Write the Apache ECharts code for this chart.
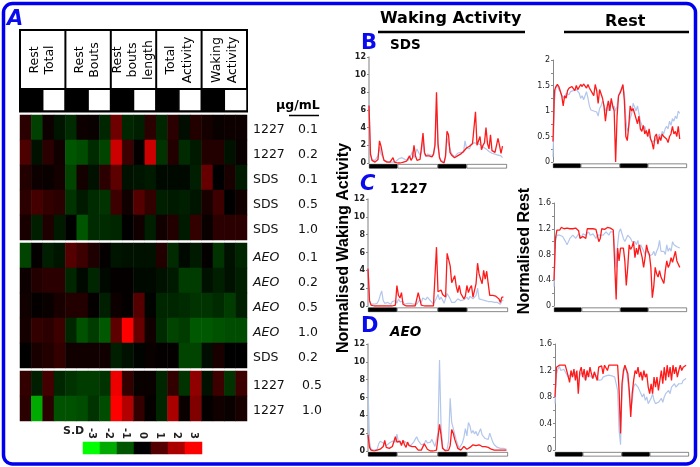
<!DOCTYPE html>
<html>
<head>
<meta charset="utf-8">
<style>html,body{margin:0;padding:0;background:#fff}#c{width:700px;height:467px}</style>
<script src="https://cdn.jsdelivr.net/npm/echarts@6/dist/echarts.min.js"></script>
</head>
<body>
<div id="c"></div>
<script>
const FONT = '"DejaVu Sans"';
const columns = Array.from({length:20},(_, i)=>String(i+1));
const block1Labels = [['1227','0.1'],['1227','0.2'],['SDS','0.1'],['SDS','0.5'],['SDS','1.0']];
const block2Labels = [['AEO','0.1'],['AEO','0.2'],['AEO','0.5'],['AEO','1.0'],['SDS','0.2']];
const block3Labels = [['1227','0.5'],['1227','1.0']];
const block1 = [
[0.5,-0.75,0.15,-0.25,-0.5,0.15,0.1,-0.45,1.3,-0.45,-0.35,0.5,-0.45,0.5,-0.15,0.4,0.25,0.1,0.15,0.15],
[0.9,-0.2,0.5,0.2,-1.0,-0.9,-0.5,-0.8,2.4,0.7,0.05,2.4,-0.6,0.4,-0.5,-0.3,0.4,0.4,-0.2,0.1],
[0.4,0.15,0.1,0.25,-0.8,0.25,-0.2,0.5,1.1,-0.2,-0.25,-0.3,-0.1,-0.1,-0.1,-0.35,1.2,0,0.3,-0.3],
[0.5,0.8,0.6,0.5,-0.6,-0.3,-0.5,-0.6,0.7,0.2,1.0,0.6,-0.35,-0.3,-0.35,-0.25,0.3,0.7,0,0.2],
[0.3,-0.35,0.35,-0.3,0,-1.0,-0.5,-0.5,-0.45,0,0.2,-0.35,0.2,0.4,-0.3,0.6,0.1,0.5,0.5,0.5]];
const block2 = [
[-0.8,0.05,-0.35,-0.25,1.0,0.7,0.35,0.05,-0.25,-0.2,-0.2,-0.2,0.4,-0.5,-0.1,-0.3,0.05,-0.6,-0.2,-0.45],
[0.15,0.4,0.5,0.5,-0.45,-0.1,-0.45,-0.1,0.05,0.05,-0.1,-0.1,-0.2,-0.3,-0.7,-0.7,-0.2,-0.35,-0.2,-0.35],
[0.2,0.05,0.1,0.3,0.4,0.4,0.05,-0.35,0.15,0.05,1.0,-0.05,-0.45,-0.45,-0.5,-0.6,-0.6,-0.5,-0.7,-0.35],
[0.25,0.6,0.5,0.7,-0.45,-0.95,-0.7,-1.05,1.1,3,1.2,0.2,-0.5,-0.8,-0.7,-1.05,-1.05,-0.95,-0.9,-0.9],
[0,0.3,0.4,0.6,0.2,0.2,0.2,0.2,-0.35,-0.2,-0.05,0.1,0.05,0.05,-0.8,-0.8,-0.15,0.3,0,0]];
const block3 = [
[0.6,-0.35,0.8,-0.45,-0.6,-0.7,-0.7,-0.6,2.8,0.6,0.1,0.1,-0.45,0.6,-0.6,1.7,-0.2,0.7,-0.6,0.7],
[0.5,-2.0,0.5,-0.95,-0.95,-0.9,-0.6,-0.9,3,2.1,0.6,0.05,-0.45,2.0,0.1,1.5,0.05,0.2,0.1,0.3]];
const sdLevels = ['-3','-2','-1','0','1','2','3'];
const headerGroups = [['Rest','Total'],['Rest','Bouts'],['Rest','bouts','length'],['Total','Activity'],['Waking','Activity']];
const lightPhases = [19,27,19,27];

const sdsWakeRed = [6.5,1.0,0.3,0.1,0.1,0.2,0.4,2.5,1.9,1.0,0.3,0.1,0.1,0.1,0.1,0.2,0.6,0.1,0,0,
0,0,0.1,0.1,0.1,0.2,0.5,0.8,0.3,0.6,2.0,0.8,0.3,0.3,0.4,1.8,3.4,1.2,0.8,0.7,
0.8,0.6,0.7,1.0,2.0,8.0,2.2,0.6,0.2,0.1,0,0.8,3.6,3.2,1.2,0.9,0.8,0.6,0.7,0.8,
0.7,1.0,0.9,1.3,1.1,1.7,1.5,1.9,1.8,2.2,2.4,5.8,2.0,2.2,3.0,1.5,2.0,2.3,4.0,2.2,1.6,3.2,1.4,1.6,1.2,1.3,2.8,2.0,1.1,1.9];
const sdsWakeBlue = [6.8,1.0,0.4,0.3,0.3,0.4,0.8,1.8,1.0,0.7,0.3,0.2,0.2,0.1,0.1,0.1,0.1,0.1,0.2,0.4,
0.5,0.4,0.6,0.5,0.4,0.2,0.3,0.5,0.9,1.3,0.6,1.1,1.6,1.2,0.9,1.2,2.8,1.0,0.7,1.0,
1.1,0.9,0.7,0.9,2.4,6.0,1.8,0.7,0.3,0.2,0.1,0.6,2.8,3.0,1.6,1.1,0.9,0.7,0.9,1.1,
0.9,1.2,1.4,1.2,2.5,1.7,1.8,1.6,2.0,2.2,2.3,2.5,2.2,2.3,2.1,2.0,1.8,1.9,1.6,1.5,1.3,1.5,1.1,1.2,1.0,0.9,0.9,0.8,0.8,0.6];
const t1227WakeRed = [4.2,0.6,0.1,0,0,0,0,0,0,0,0,0,0,0,0,0,0,0,0.1,2.3,
1.2,0.9,1.5,0.2,0,0,0,0,0,0,0,0,0.1,1.5,0.8,0.1,0,0,0,0,
0,0,0,0,0.1,6.6,1.6,1.6,1.8,1.3,1.1,1.0,5.9,5.2,4.5,2.6,2.4,3.4,2.2,1.5,
2.3,1.4,1.2,0.8,1.1,2.3,1.5,2.0,2.3,1.0,0.9,2.5,4.8,3.6,3.0,2.5,4.0,3.0,3.9,2.5,
1.2,1.2,1.2,1.1,1.1,1.0,0.8,0.4,1.0,1.0];
const t1227WakeBlue = [4.4,0.6,0.2,0.1,0.2,0.2,0.3,0.6,1.2,1.7,0.6,0.3,0.3,0.4,0.3,0.2,0.5,0.7,0.6,0.3,
0.8,0.5,0.7,0.5,0.2,0.3,0.3,0.5,0.3,0.4,0.2,0.4,0.2,0.3,0.7,0.4,0.9,1.0,0.7,1.0,
1.0,0.6,0.4,0.2,0.1,0.9,1.3,0.7,1.0,0.8,0.3,0.5,1.4,1.6,0.8,0.4,0.2,0.4,0.5,0.8,
1.0,0.6,0.5,0.7,0.8,1.0,0.7,1.1,1.2,0.8,1.0,1.2,2.0,0.8,0.9,0.7,0.8,0.6,0.7,0.5,
0.6,0.5,0.5,0.4,0.5,0.4,0.4,0.2,0.6,0.7];
const aeoWakeRed = [1.8,0.4,0.1,0.1,0,0,0.1,0.1,0.2,0.3,0.5,1.2,0.4,0.3,0.3,0.4,0.5,0.7,1.6,1.0,
0.9,1.1,0.6,1.2,0.7,0.4,1.0,0.6,0.5,0.5,0.3,0.5,0.5,0.1,0,0.1,0.3,0.8,0.5,0.2,
0.1,0,0,0,0,0.1,0.3,3.0,1.8,0.3,0.1,0,0,0.1,0.6,2.4,2.0,1.3,0.8,0.3,
0.2,0.1,0.3,0.5,0.3,0.2,0.3,0.4,0.5,0.7,0.8,0.6,0.5,0.7,0.6,0.5,0.6,0.5,0.3,0.4,
0.3,0.2,0.3,0.1,0.2,0.1,0.2,0.1,0,0.1,0.1,0.1];
const aeoWakeBlue = [7.2,1.0,0.2,0.1,0.1,0.1,0.2,0.8,1.1,1.0,0.9,1.1,0.6,0.8,0.9,0.8,1.1,1.3,1.0,1.9,
1.0,1.1,0.8,0.7,1.1,1.0,0.8,0.9,0.6,0.7,1.0,1.3,1.6,1.2,1.3,0.7,0.9,0.8,1.2,0.9,
0.7,1.0,1.3,0.9,0.5,0.3,2.0,10.2,2.8,0.5,0.1,0,0.2,1.2,5.9,3.2,3.3,1.9,1.2,0.7,
0.3,0.4,0.9,1.5,2.5,1.7,3.2,2.8,2.0,2.3,1.9,2.2,1.7,1.9,2.5,1.8,2.0,1.4,1.6,1.3,
2.0,1.5,1.0,0.7,0.6,0.4,0.5,0.3,0.5,0.3,0.5,0.2];
const sdsRestRed = [0.4,1.4,1.48,1.52,1.48,1.45,1.3,1.1,1.3,1.25,1.4,1.45,1.42,1.48,1.45,1.4,1.5,1.42,1.45,1.52,
1.48,1.53,1.5,1.45,1.52,1.45,1.48,1.35,1.3,1.52,1.4,1.15,1.42,1.4,1.25,1.1,0.8,1.05,1.2,1.0,
1.25,1.1,1.0,0,0.9,1.3,1.35,1.42,1.52,1.2,0.5,0.42,0.7,1.1,1.0,1.05,0.95,0.85,0.75,0.9,
0.65,0.6,0.72,0.55,0.62,0.5,0.65,0.45,0.38,0.25,0.5,0.55,0.35,0.5,0.42,0.55,0.5,0.52,0.45,0.38,
0.5,0.55,0.7,0.55,0.6,0.5,0.7,0.45];
const sdsRestBlue = [0.1,1.2,1.45,1.5,1.42,1.38,1.3,1.28,1.25,1.35,1.38,1.32,1.38,1.35,1.4,1.38,1.42,1.4,1.35,1.25,
1.3,1.22,1.3,1.38,1.25,1.1,1.02,1.05,1.0,1.03,0.98,0.9,1.05,1.1,1.2,1.1,1.0,1.08,1.0,1.15,
1.2,1.05,1.1,1.0,1.1,1.3,1.38,1.45,1.5,1.35,0.85,0.6,0.7,0.85,0.95,1.15,1.08,1.0,1.1,0.95,
0.8,0.72,0.65,0.7,0.6,0.55,0.5,0.45,0.4,0.38,0.42,0.4,0.5,0.55,0.48,0.6,0.55,0.65,0.7,0.65,
0.8,0.72,0.85,0.8,0.9,0.85,1.0,0.95];
const t1227RestRed = [0.4,1.05,1.18,1.2,1.18,1.22,1.19,1.2,1.18,1.21,1.19,1.2,1.22,1.2,1.19,1.21,1.2,1.17,1.05,1.05,
1.08,1.07,1.05,1.2,1.21,1.2,1.19,1.2,1.21,1.19,1.2,1.0,1.05,1.2,1.21,1.19,1.2,1.22,1.2,1.21,
1.19,1.18,1.15,0.1,0.9,0.7,0.9,0.91,0.9,0.7,0.32,0.6,0.95,0.88,0.92,1.0,0.75,0.9,0.8,0.95,
0.85,0.75,0.6,0.75,0.95,0.85,0.8,0.6,0.13,0.3,0.6,0.5,0.45,0.55,0.45,0.42,0.35,0.55,0.7,0.6,
0.65,0.75,0.68,0.7,0.85,0.7,0.65,0.6];
const t1227RestBlue = [0.3,1.0,1.1,1.12,1.1,1.13,1.08,1.1,1.0,0.95,1.0,1.05,1.08,1.1,1.12,1.05,1.08,1.12,1.1,1.07,
1.12,1.13,1.1,1.12,1.15,1.1,1.08,1.12,1.1,1.05,1.1,1.13,1.1,1.08,1.1,1.12,1.15,1.13,1.1,1.15,
1.18,1.15,1.12,0.6,0.95,1.15,1.2,1.18,1.05,1.0,1.05,1.1,1.12,1.05,1.0,0.98,1.0,0.95,1.02,0.9,
0.95,0.9,0.85,0.8,0.88,0.82,0.78,0.75,0.8,0.85,0.78,0.85,0.9,1.02,0.85,0.82,0.85,0.8,0.95,0.85,
0.9,0.85,1.0,0.95,0.98,0.92,0.92,0.9];
const aeoRestRed = [0.8,1.25,1.27,1.28,1.26,1.28,1.27,1.28,1.25,1.12,1.02,1.2,1.1,1.22,1.05,1.2,0.85,1.18,1.25,1.1,
1.22,1.05,1.2,1.1,1.25,1.15,1.08,1.18,1.15,1.05,1.25,1.28,1.27,1.15,1.28,1.27,1.2,1.28,1.26,1.28,
1.27,1.28,1.26,1.28,0.9,0.25,1.0,1.2,1.28,1.27,1.15,0.9,0.5,0.85,1.05,1.2,1.15,1.25,1.1,1.18,
1.05,1.2,1.1,1.15,0.95,0.85,1.0,0.85,1.1,0.95,1.1,0.9,1.05,1.2,1.0,1.25,1.05,1.28,1.1,1.25,
1.05,1.28,1.15,1.25,1.1,1.2,1.28,1.2,1.25,1.22,1.28];
const aeoRestBlue = [0.7,1.15,1.22,1.26,1.2,1.18,1.22,1.18,1.15,1.1,1.12,1.15,1.1,1.12,1.18,1.1,1.02,1.12,1.18,1.12,
1.1,1.05,1.12,1.15,1.12,1.1,1.08,1.12,1.1,1.12,1.05,1.08,1.06,1.1,1.08,1.12,1.15,1.13,1.15,1.12,
1.12,1.1,1.08,0.9,0.3,0.08,0.9,1.15,1.25,1.2,1.05,0.8,0.6,0.75,0.95,1.0,1.02,0.95,0.9,0.85,
0.8,0.85,0.75,0.8,0.7,0.72,0.78,0.85,0.75,0.7,0.68,0.72,0.7,0.78,0.72,0.8,0.85,0.82,0.9,0.85,
0.95,0.92,1.0,0.95,0.98,1.0,1.02,1.0,1.05,1.06,1.08];

const grids=[], xAxes=[], yAxes=[], series=[];
function addGrid(g,x,y){grids.push(g);xAxes.push(Object.assign({gridIndex:grids.length-1},x));yAxes.push(Object.assign({gridIndex:grids.length-1},y));return grids.length-1;}
const hidden={show:false};
function heat(values,labels,top,aw){
  const h=values.length*25;
  const i=addGrid({left:20,top,width:227,height:h},
    {type:'category',data:columns,show:false},
    {type:'category',inverse:true,position:'right',data:labels.map(l=>l.join('|')),
     axisLine:hidden,axisTick:hidden,
     axisLabel:{margin:6,interval:0,align:'left',formatter:v=>{const [a,b]=v.split('|');return `{${a==='AEO'?'i':'a'}|${a}}{b|${b}}`;},
       rich:{a:{width:aw,fontFamily:FONT,fontSize:12.5,color:'#111',padding:[4,0,0,0]},
             i:{width:aw,fontFamily:FONT,fontSize:12.5,color:'#111',fontStyle:'italic',padding:[4,0,0,0]},
             b:{fontFamily:FONT,fontSize:12.5,color:'#111',padding:[4,0,0,0]}}}});
  const data=[];
  values.forEach((r,y)=>r.forEach((v,x)=>data.push([x,y,v])));
  series.push({type:'heatmap',xAxisIndex:i,yAxisIndex:i,data,silent:true,progressive:0,emphasis:{disabled:true}});
}
heat(block1,block1Labels,115,45);
heat(block2,block2Labels,243,45);
heat(block3,block3Labels,371,49);
const bar=addGrid({left:83,top:442,width:119,height:12},
  {type:'category',position:'top',data:sdLevels,axisLine:hidden,axisTick:hidden,
   axisLabel:{interval:0,rotate:90,margin:3,fontFamily:FONT,fontSize:10,fontWeight:'bold',color:'#222'}},
  {type:'category',data:['SD'],show:false});
series.push({type:'heatmap',xAxisIndex:bar,yAxisIndex:bar,data:sdLevels.map((v,i)=>[i,0,+v]),silent:true,emphasis:{disabled:true}});

function panel(x,top,w,h,maxV,step,red,blue,wake,stripTop){
  const i=addGrid({left:x,top,width:w,height:h},
    {type:'value',min:0,max:92,show:false},
    {type:'value',min:0,max:maxV,interval:step,splitLine:hidden,
     axisLine:{show:true,lineStyle:{color:wake?'#aaa':'#888',width:wake?1.5:1}},
     axisTick:{show:true,length:2,lineStyle:{color:'#888'}},
     minorTick:{show:!wake,splitNumber:2,length:2,lineStyle:{color:'#888'}},
     axisLabel:{margin:3,fontFamily:FONT,fontSize:8,fontWeight:wake?'bold':'normal',color:'#222',showMaxLabel:true,showMinLabel:true}});
  const ln=(arr,c)=>({type:'line',xAxisIndex:i,yAxisIndex:i,data:arr.map((v,k)=>[k,v]),showSymbol:false,symbol:'none',silent:true,
    lineStyle:{color:c,width:c==='#ff1a1a'?1.3:1.2},emphasis:{disabled:true},z:c==='#ff1a1a'?3:2});
  series.push(ln(blue,'#b3c6ec'),ln(red,'#ff1a1a'));
  const s=addGrid({left:x,top:stripTop,width:w,height:4.5},
    {type:'value',min:0,max:92,show:false},{type:'category',data:['light'],show:false});
  lightPhases.forEach((v,k)=>series.push({type:'bar',xAxisIndex:s,yAxisIndex:s,stack:'p'+s,data:[v],barWidth:'100%',silent:true,
    itemStyle:{color:k%2?'#fff':'#000',borderColor:k%2?'#555':'#000',borderWidth:0.7},emphasis:{disabled:true}}));
}
panel(369,57,138,106,12,2,sdsWakeRed,sdsWakeBlue,true,164);
panel(368,199,140,107,12,2,t1227WakeRed,t1227WakeBlue,true,307.5);
panel(368,344,140,107,12,2,aeoWakeRed,aeoWakeBlue,true,452);
panel(553,60,134,102,2,0.5,sdsRestRed,sdsRestBlue,false,163.5);
panel(554,203,133,103,1.6,0.4,t1227RestRed,t1227RestBlue,false,307.5);
panel(555,344,134,106,1.6,0.4,aeoRestRed,aeoRestBlue,false,452);

const g=[];
g.push({type:'rect',shape:{x:3.5,y:3.5,width:692,height:460.5,r:9},style:{fill:'none',stroke:'#0000ee',lineWidth:3.5},z:1});
const txt=(text,x,y,size,o={})=>g.push(Object.assign({type:'text',x,y,rotation:o.rot||0,z:10,style:{text,align:o.align||'left',verticalAlign:'middle',
  font:`${o.italic?'italic ':''}${o.bold?'bold ':''}${size}px ${o.family||FONT}`,fill:o.color||'#000'}}));
const line=(x1,y1,x2,y2,w)=>g.push({type:'line',z:9,shape:{x1,y1,x2,y2},style:{stroke:'#000',lineWidth:w}});
const colW=227/5;
g.push({type:'rect',z:8,shape:{x:20,y:30,width:227,height:81.5},style:{fill:'#fff',stroke:'#000',lineWidth:2}});
const textX=[[34.5,49.5],[80,94.5],[117.5,133,148.5],[170.5,187.5],[216.5,232.5]];
headerGroups.forEach((lines,c)=>{
  if(c) line(20+c*colW,30,20+c*colW,111,2);
  lines.forEach((t,k)=>txt(t,textX[c][k],60,12.5,{rot:Math.PI/2,align:'center'}));
  g.push({type:'rect',z:9,shape:{x:20+c*colW,y:89,width:colW/2,height:22},style:{fill:'#000'}});
  g.push({type:'rect',z:9,shape:{x:20+c*colW+colW/2,y:89,width:colW/2,height:22},style:{fill:'#fff',stroke:'#000',lineWidth:1.5}});
});
line(20,89,247,89,2);
txt('µg/mL',276,106,12.5,{bold:true});
line(289,115.5,319,115.5,1.5);
txt('S.D',63,431,11,{bold:true,color:'#222'});
txt('Waking Activity',380,19,16,{bold:true});
line(378,32,525,32,2.5);
txt('Rest',605,22,16,{bold:true});
line(564,32,689,32,2.5);
txt('A',7,20,21,{bold:true,italic:true,color:'#0a0aee'});
txt('B',361,44,21,{bold:true,color:'#0a0aee'});
txt('SDS',390,45,13.5,{bold:true});
txt('C',360,185,21,{bold:true,italic:true,color:'#0a0aee'});
txt('1227',390,189,13.5,{bold:true});
txt('D',361,327,21,{bold:true,color:'#0a0aee'});
txt('AEO',390,332,13.5,{bold:true,italic:true});
txt('Normalised Waking Activity',344,248,16,{bold:true,rot:Math.PI/2,align:'center',family:'"Liberation Sans"'});
txt('Normalised Rest',525,251,16,{bold:true,rot:Math.PI/2,align:'center',family:'"Liberation Sans"'});

const chart=echarts.init(document.getElementById('c'),null,{renderer:'canvas'});
chart.setOption({animation:false,backgroundColor:'#fff',grid:grids,xAxis:xAxes,yAxis:yAxes,series,graphic:{elements:g},
  visualMap:{type:'continuous',show:false,min:-3,max:3,seriesIndex:[0,1,2,3],calculable:false,inRange:{color:['#00ff00','#000000','#ff0000']}}});
</script>
</body>
</html>
